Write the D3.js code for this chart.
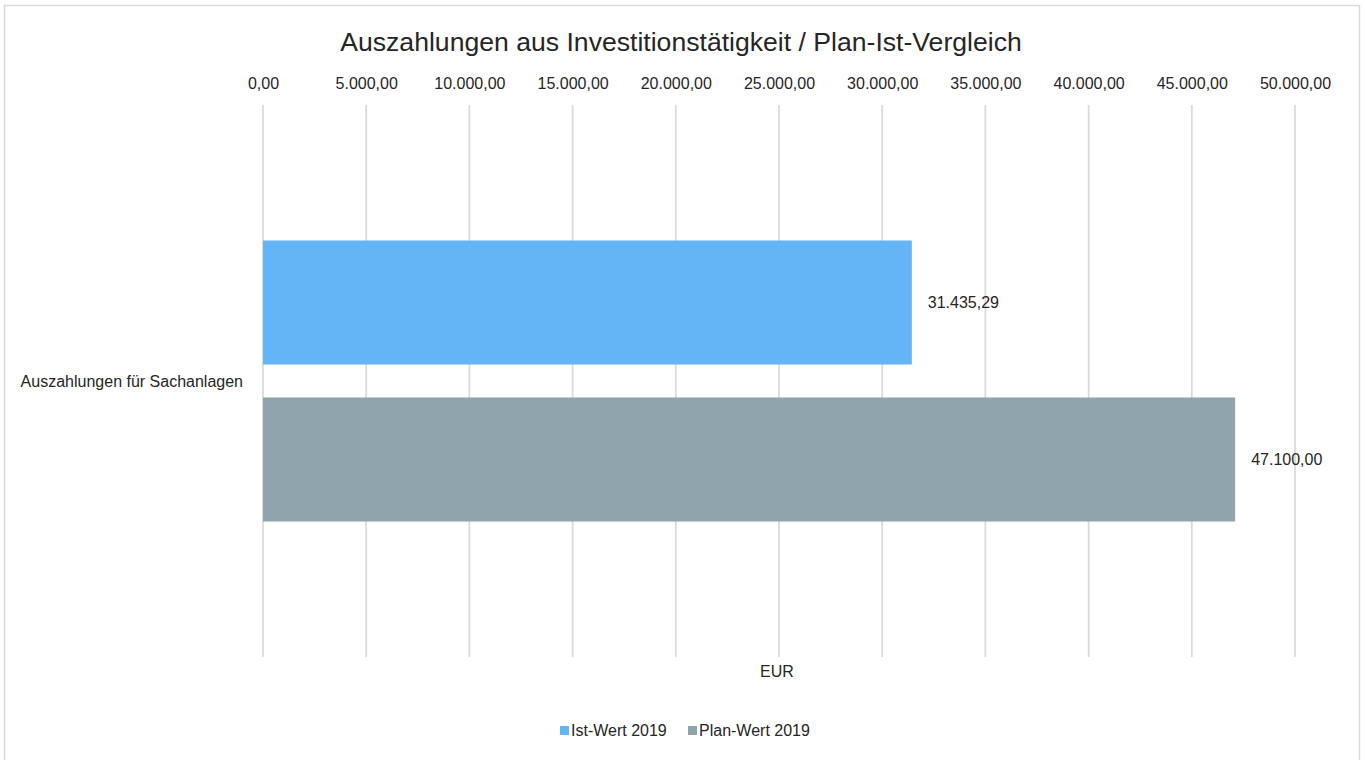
<!DOCTYPE html>
<html>
<head>
<meta charset="utf-8">
<script src="https://cdn.jsdelivr.net/npm/d3@7"></script>
<style>
  html, body { margin: 0; padding: 0; background: #fff; }
  svg { display: block; font-family: "Liberation Sans", Arial, sans-serif; }
</style>
</head>
<body>
<svg id="chart" width="1365" height="760"></svg>
<script>
const title = "Auszahlungen aus Investitionstätigkeit / Plan-Ist-Vergleich";
const categories = ["Auszahlungen für Sachanlagen"];
const seriesNames = ["Ist-Wert 2019", "Plan-Wert 2019"];
const istValues = [31435.29];
const planValues = [47100.00];
const tickValues = [0, 5000, 10000, 15000, 20000, 25000, 30000, 35000, 40000, 45000, 50000];
const axisTitle = "EUR";
const colors = ["#64B5F6", "#90A4AE"];

const seriesValues = [istValues, planValues];

const svg = d3.select("#chart");

// outer frame
svg.append("rect")
  .attr("x", 4.5).attr("y", 5.5)
  .attr("width", 1355).attr("height", 800)
  .attr("fill", "#fff").attr("stroke", "#d9d9d9").attr("stroke-width", 1.5);

const plot = { left: 263, right: 1295, top: 105, bottom: 657 };

const x = d3.scaleLinear().domain([0, 50000]).range([plot.left, plot.right]);
const y0 = d3.scaleBand().domain(categories).range([plot.top, plot.bottom]).padding(0);
const y1 = d3.scaleBand().domain(seriesNames).range([0, y0.bandwidth()])
  .paddingInner(0.21).paddingOuter(0.863);

const fmt = v => {
  const s = d3.format(",.2f")(v);
  return s.replace(/,/g, "#").replace(/\./g, ",").replace(/#/g, ".");
};

// gridlines
svg.append("g").selectAll("line").data(tickValues).join("line")
  .attr("x1", d => x(d)).attr("x2", d => x(d))
  .attr("y1", plot.top).attr("y2", plot.bottom)
  .attr("stroke", "#d9d9d9").attr("stroke-width", 1.75);

// top axis labels
const axis = d3.axisTop(x).tickValues(tickValues).tickFormat(fmt).tickSize(0);
const ag = svg.append("g").attr("transform", `translate(0, 92)`).call(axis);
ag.select(".domain").remove();
ag.selectAll("text").attr("font-size", 16).attr("fill", "#262626")
  .attr("font-family", "Liberation Sans, Arial, sans-serif");

// title
svg.append("text").attr("x", 681).attr("y", 51)
  .attr("text-anchor", "middle").attr("font-size", 26.6).attr("fill", "#262626")
  .text(title);

// bars
const rows = [];
categories.forEach((c, ci) => {
  seriesNames.forEach((s, si) => rows.push({ c, s, si, v: seriesValues[si][ci] }));
});

svg.append("g").selectAll("rect").data(rows).join("rect")
  .attr("x", x(0))
  .attr("y", d => y0(d.c) + y1(d.s))
  .attr("width", d => x(d.v) - x(0))
  .attr("height", y1.bandwidth())
  .attr("fill", d => colors[d.si]);

// data labels
svg.append("g").selectAll("text").data(rows).join("text")
  .attr("x", d => x(d.v) + 16)
  .attr("y", d => y0(d.c) + y1(d.s) + y1.bandwidth() / 2)
  .attr("dy", "0.35em")
  .attr("font-size", 16).attr("fill", "#262626")
  .text(d => fmt(d.v));

// category labels
svg.append("g").selectAll("text").data(categories).join("text")
  .attr("x", 243)
  .attr("y", d => y0(d) + y0.bandwidth() / 2)
  .attr("dy", "0.35em")
  .attr("text-anchor", "end")
  .attr("font-size", 16).attr("fill", "#262626")
  .text(d => d);

// axis title
svg.append("text").attr("x", 777).attr("y", 677)
  .attr("text-anchor", "middle").attr("font-size", 16).attr("fill", "#262626")
  .text(axisTitle);

// legend
const legendX = [560, 688];
const lg = svg.append("g").selectAll("g").data(seriesNames).join("g")
  .attr("transform", (d, i) => `translate(${legendX[i]}, 726)`);
lg.append("rect").attr("x", 0).attr("y", 0).attr("width", 9).attr("height", 9)
  .attr("fill", (d, i) => colors[i]);
lg.append("text").attr("x", 11).attr("y", 4.5).attr("dy", "0.35em")
  .attr("font-size", 16).attr("fill", "#262626").text(d => d);
</script>
</body>
</html>
